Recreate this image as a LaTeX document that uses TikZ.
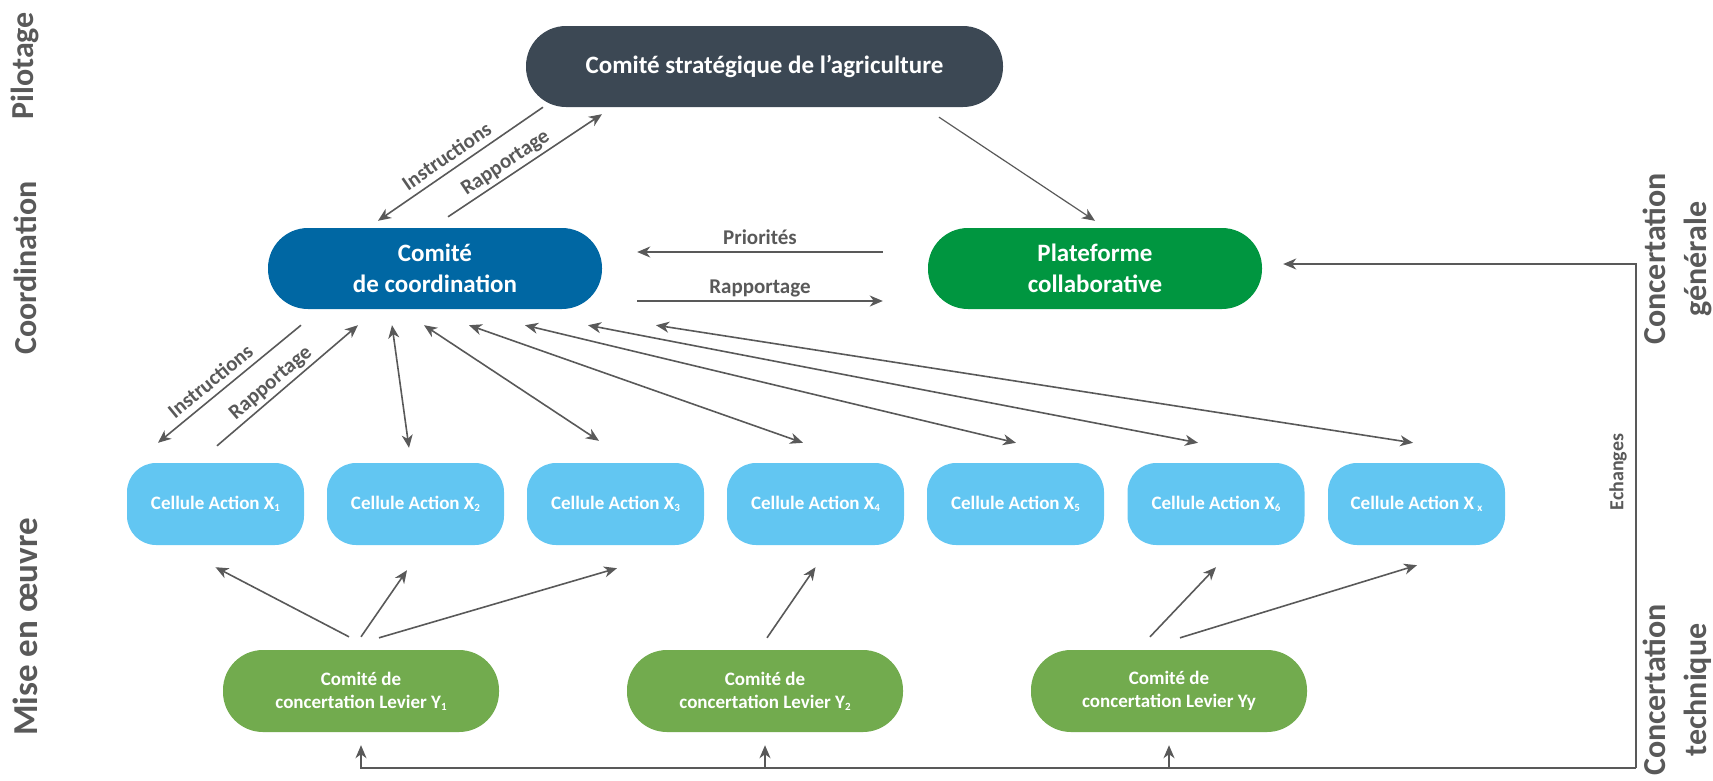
\documentclass[tikz,border=0pt]{standalone}
\usepackage{fontspec}
\setmainfont{Carlito}
\usetikzlibrary{arrows.meta}
\definecolor{cstrat}{RGB}{60,72,84}
\definecolor{ccoord}{RGB}{0,103,163}
\definecolor{cplat}{RGB}{0,150,64}
\definecolor{ccell}{RGB}{98,198,242}
\definecolor{clev}{RGB}{114,171,78}
\definecolor{cgray}{RGB}{89,89,89}
\newcommand\xsub[1]{\raisebox{-2pt}{\fontsize{11}{11}\selectfont #1}}
\begin{document}
\begin{tikzpicture}[x=1pt,y=-1pt,
  tip/.tip={Stealth[length=13pt,width=11pt,inset=4pt]},
  pill/.style={rounded corners=40pt, minimum height=81pt, inner sep=0pt, text=white, align=center, font=\bfseries\fontsize{25}{30.5}\selectfont},
  cellbox/.style={fill=ccell, rounded corners=29pt, minimum width=177pt, minimum height=82pt, inner sep=0pt, text=white, font=\bfseries\fontsize{19}{23}\selectfont},
  levbox/.style={fill=clev, rounded corners=40pt, minimum width=276pt, minimum height=82pt, inner sep=0pt, text=white, align=center, font=\bfseries\fontsize{19}{23}\selectfont},
  conn/.style={draw=cgray, line width=1.6pt, -tip},
  dconn/.style={draw=cgray, line width=1.6pt, tip-tip},
  lab/.style={text=cgray, font=\bfseries\fontsize{21}{25}\selectfont, text depth=5pt, inner sep=1.5pt},
  side/.style={text=cgray, rotate=90, align=center, inner sep=0pt, font=\bfseries\fontsize{32}{41}\selectfont},
]
\useasboundingbox (0,0) rectangle (1713,780);

% main nodes
\node[pill, fill=cstrat, minimum width=477pt] (strat) at (764.5,66.5) {Comité stratégique de l’agriculture};
\node[pill, fill=ccoord, minimum width=334pt] (coord) at (435,268.5) {Comité\\de coordination};
\node[pill, fill=cplat, minimum width=334pt] (plat) at (1095,268.5) {Plateforme\\collaborative};

\node[cellbox] (x1) at (215.5,504) {Cellule Action X\xsub{1}};
\node[cellbox] (x2) at (415.5,504) {Cellule Action X\xsub{2}};
\node[cellbox] (x3) at (615.5,504) {Cellule Action X\xsub{3}};
\node[cellbox] (x4) at (815.5,504) {Cellule Action X\xsub{4}};
\node[cellbox] (x5) at (1015.5,504) {Cellule Action X\xsub{5}};
\node[cellbox] (x6) at (1216,504) {Cellule Action X\xsub{6}};
\node[cellbox] (xx) at (1416.5,504) {Cellule Action X\,\xsub{x}};

\node[levbox] (y1) at (361,691) {Comité de\\concertation Levier Y\xsub{1}};
\node[levbox] (y2) at (765,691) {Comité de\\concertation Levier Y\xsub{2}};
\node[levbox] (yy) at (1169,691) {Comité de\\concertation Levier Yy};

% side labels
\node[side] (pil) at (25,66) {Pilotage};
\node[side] (coo) at (25,268) {Coordination};
\node[side, font=\bfseries\fontsize{35}{41}\selectfont] (mise) at (25,627) {Mise en œuvre};
\node[side] (cg) at (1677,259) {Concertation\\générale};
\node[side] (ct) at (1677,690) {Concertation\\technique};

% pilotage <-> coordination
\draw[conn] ([xshift=-221.5pt]strat.south) -- ([xshift=-57pt,yshift=7pt]coord.north)
  node[lab, pos=0.535, sloped, above] {Instructions};
\draw[conn] ([xshift=13pt,yshift=11pt]coord.north) -- ([xshift=-162.5pt,yshift=-7pt]strat.south)
  node[lab, pos=0.42, sloped, above] {Rapportage};
\draw[conn, line width=1.2pt] ([xshift=174.5pt,yshift=-10pt]strat.south) -- ([yshift=7pt]plat.north);

% coordination <-> plateforme
\draw[conn] ([xshift=-45pt,yshift=16.5pt]plat.west) -- ([xshift=35pt,yshift=16.5pt]coord.east)
  node[lab, midway, above] {Priorités};
\draw[conn] ([xshift=35pt,yshift=-32.5pt]coord.east) -- ([xshift=-45pt,yshift=-32.5pt]plat.west)
  node[lab, midway, above] {Rapportage};

% coordination <-> cells
\draw[conn] ([xshift=-134pt,yshift=-16pt]coord.south) -- ([xshift=-57.5pt,yshift=20pt]x1.north)
  node[lab, pos=0.57, sloped, above] {Instructions};
\draw[conn] ([xshift=1.5pt,yshift=17pt]x1.north) -- ([xshift=-77pt,yshift=-16pt]coord.south)
  node[lab, pos=0.44, sloped, above] {Rapportage};
\draw[dconn] ([xshift=-43pt,yshift=-16pt]coord.south) -- ([xshift=-6.5pt,yshift=15pt]x2.north);
\draw[dconn] ([xshift=-11pt,yshift=-16pt]coord.south) -- ([xshift=-16.5pt,yshift=22pt]x3.north);
\draw[dconn] ([xshift=34pt,yshift=-16pt]coord.south) -- ([xshift=-12.5pt,yshift=20pt]x4.north);
\draw[dconn] ([xshift=90pt,yshift=-16pt]coord.south) -- ([xshift=0.5pt,yshift=20pt]x5.north);
\draw[dconn] ([xshift=153pt,yshift=-16pt]coord.south) -- ([xshift=-18pt,yshift=20pt]x6.north);
\draw[dconn] ([xshift=221pt,yshift=-16pt]coord.south) -- ([xshift=-3.5pt,yshift=20pt]xx.north);

% levier committees -> cells
\draw[conn] ([xshift=-12pt,yshift=13pt]y1.north) -- ([yshift=-22pt]x1.south);
\draw[conn] ([yshift=13pt]y1.north) -- ([xshift=-8.5pt,yshift=-25pt]x2.south);
\draw[conn] ([xshift=18pt,yshift=12pt]y1.north) -- ([xshift=1.5pt,yshift=-23pt]x3.south);
\draw[conn] ([xshift=2pt,yshift=12pt]y2.north) -- ([yshift=-22pt]x4.south);
\draw[conn] ([xshift=-19pt,yshift=13pt]yy.north) -- ([yshift=-22pt]x6.south);
\draw[conn] ([xshift=11pt,yshift=12pt]yy.north) -- ([xshift=0.5pt,yshift=-20pt]xx.south);

% echanges loop
\coordinate (etop) at (1636,264);
\coordinate (ebot) at (1636,768);
\draw[conn] (ebot) -- (etop) -- ([xshift=21pt,yshift=4.5pt]plat.east);
\draw[conn] (ebot) -| ([yshift=-13pt]y1.south);
\draw[conn] (y2.south |- ebot) -- ([yshift=-13pt]y2.south);
\draw[conn] (yy.south |- ebot) -- ([yshift=-13pt]yy.south);
\node[text=cgray, rotate=90, inner sep=0pt, font=\bfseries\fontsize{20}{24}\selectfont] (ech) at (1618,472) {Echanges};
\end{tikzpicture}
\end{document}
